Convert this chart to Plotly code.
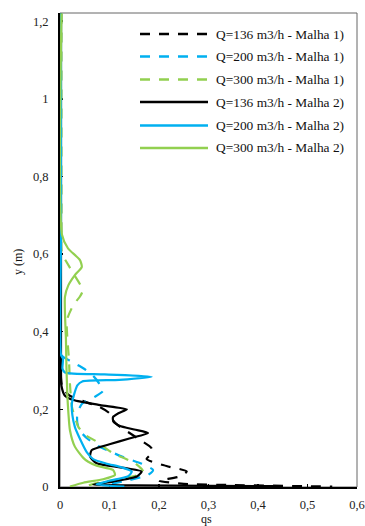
import plotly.graph_objects as go

# ---------------- data ----------------
series_names = [
    "Q=136 m3/h - Malha 1)",
    "Q=200 m3/h - Malha 1)",
    "Q=300 m3/h - Malha 1)",
    "Q=136 m3/h - Malha 2)",
    "Q=200 m3/h - Malha 2)",
    "Q=300 m3/h - Malha 2)",
]

# Q=136 Malha 1 (dashed black)
q136_m1_x = [0.002, 0.002, 0.004, 0.008, 0.02, 0.045, 0.08, 0.1, 0.107, 0.118, 0.131, 0.162, 0.185,
             0.186, 0.175, 0.215, 0.256, 0.242, 0.2, 0.25, 0.35, 0.5, 0.55]
q136_m1_y = [1.22, 0.28, 0.26, 0.25, 0.235, 0.222, 0.206, 0.19, 0.172, 0.158, 0.147, 0.121, 0.1,
             0.088, 0.072, 0.054, 0.04, 0.027, 0.016, 0.008, 0.005, 0.002, 0.001]

# Q=200 Malha 1 (dashed blue)
q200_m1_x = [0.002, 0.003, 0.02, 0.047, 0.068, 0.08, 0.087, 0.07, 0.045, 0.035, 0.035, 0.04, 0.055,
             0.078, 0.1, 0.128, 0.165, 0.188, 0.178, 0.14, 0.1, 0.13]
q200_m1_y = [1.22, 0.34, 0.325, 0.306, 0.285, 0.265, 0.248, 0.232, 0.215, 0.19, 0.165, 0.145, 0.125,
             0.105, 0.092, 0.077, 0.06, 0.044, 0.031, 0.018, 0.006, 0.001]

# Q=300 Malha 1 (dashed green)
q300_m1_x = [0.003, 0.003, 0.004, 0.012, 0.028, 0.046, 0.04, 0.027, 0.014, 0.015, 0.018, 0.02, 0.022,
             0.024, 0.03, 0.037, 0.05, 0.074, 0.107, 0.152, 0.168, 0.155, 0.12, 0.08, 0.047]
q300_m1_y = [1.22, 0.7, 0.6, 0.582, 0.548, 0.507, 0.49, 0.469, 0.43, 0.38, 0.33, 0.268, 0.232,
             0.207, 0.18, 0.155, 0.135, 0.117, 0.087, 0.061, 0.04, 0.03, 0.02, 0.012, 0.0]

# Q=136 Malha 2 (solid black)
q136_m2_x = [0.002, 0.002, 0.003, 0.01, 0.027, 0.081, 0.135, 0.118, 0.107, 0.108, 0.12, 0.15, 0.178,
             0.14, 0.1, 0.064, 0.061, 0.074, 0.135, 0.165, 0.155, 0.107, 0.067, 0.15, 0.3, 0.45]
q136_m2_y = [1.22, 0.3, 0.26, 0.235, 0.224, 0.211, 0.2, 0.19, 0.18, 0.168, 0.158, 0.148, 0.139,
             0.125, 0.11, 0.095, 0.078, 0.061, 0.048, 0.04, 0.027, 0.014, 0.006, 0.004, 0.003, 0.002]

# Q=200 Malha 2 (solid blue)
q200_m2_x = [0.002, 0.002, 0.002, 0.006, 0.005, 0.01, 0.09, 0.185, 0.12, 0.045, 0.035, 0.03, 0.024,
             0.025, 0.03, 0.04, 0.054, 0.067, 0.095, 0.121, 0.145, 0.138, 0.1, 0.074, 0.13]
q200_m2_y = [1.22, 0.65, 0.34, 0.33, 0.305, 0.295, 0.29, 0.284, 0.276, 0.272, 0.262, 0.245, 0.215,
             0.185, 0.155, 0.125, 0.09, 0.072, 0.06, 0.052, 0.04, 0.028, 0.016, 0.007, 0.001]

# Q=300 Malha 2 (solid green)
q300_m2_x = [0.003, 0.004, 0.016, 0.04, 0.044, 0.03, 0.017, 0.01, 0.012, 0.013, 0.015, 0.017, 0.02,
             0.03, 0.047, 0.057, 0.074, 0.107, 0.111, 0.087, 0.047, 0.02]
q300_m2_y = [1.22, 0.65, 0.615, 0.585, 0.567, 0.546, 0.52, 0.49, 0.38, 0.31, 0.232, 0.19, 0.147,
             0.104, 0.075, 0.065, 0.055, 0.044, 0.031, 0.02, 0.011, 0.001]

x_tickvals = [0, 0.1, 0.2, 0.3, 0.4, 0.5, 0.6]
x_ticktext = ["0", "0,1", "0,2", "0,3", "0,4", "0,5", "0,6"]
y_tickvals = [0, 0.2, 0.4, 0.6, 0.8, 1.0, 1.2]
y_ticktext = ["0", "0,2", "0,4", "0,6", "0,8", "1", "1,2"]

# ---------------- styling ----------------
BLACK = "#000000"
BLUE = "#00B0F0"
GREEN = "#92D050"
DASH = "10px,9px"
FONT = "Liberation Serif"

series = [
    (q136_m1_x, q136_m1_y, BLACK, DASH),
    (q200_m1_x, q200_m1_y, BLUE, DASH),
    (q300_m1_x, q300_m1_y, GREEN, DASH),
    (q136_m2_x, q136_m2_y, BLACK, "solid"),
    (q200_m2_x, q200_m2_y, BLUE, "solid"),
    (q300_m2_x, q300_m2_y, GREEN, "solid"),
]

fig = go.Figure()
for name, (xs, ys, col, dash) in zip(series_names, series):
    fig.add_trace(go.Scatter(
        x=xs, y=ys, mode="lines", name=name,
        line=dict(color=col, width=2.2, dash=dash, shape="spline", smoothing=0.6),
        showlegend=False, hoverinfo="skip",
    ))

W, H = 365, 526
L, R, T, B = 60, 8, 13, 39
pw, ph = W - L - R, H - T - B


def px2paper_x(px):
    return (px - L) / pw


def py2paper_y(py):
    return (H - B - py) / ph


shapes = []
annotations = []
# plot frame (top/right)
shapes.append(dict(type="rect", xref="paper", yref="paper", x0=0, x1=1, y0=0, y1=1,
                   line=dict(color="#666666", width=1), layer="below"))

# manual legend
row_y = [34, 56.5, 79.5, 102, 125.5, 148]
for i, (name, (xs, ys, col, dash)) in enumerate(zip(series_names, series)):
    yy = py2paper_y(row_y[i])
    shapes.append(dict(type="line", xref="paper", yref="paper",
                       x0=px2paper_x(140), x1=px2paper_x(208), y0=yy, y1=yy,
                       line=dict(color=col, width=2.5, dash=dash)))
    annotations.append(dict(text=name, xref="paper", yref="paper",
                            x=px2paper_x(214), y=yy, xanchor="left", yanchor="middle",
                            showarrow=False, font=dict(family=FONT, size=13.4, color="#111111")))

# axis titles
annotations.append(dict(text="y (m)", xref="paper", yref="paper", x=px2paper_x(18), y=py2paper_y(262),
                        xanchor="center", yanchor="middle", textangle=-90, showarrow=False,
                        font=dict(family=FONT, size=12, color="#111111")))
annotations.append(dict(text="qs", xref="paper", yref="paper", x=px2paper_x(206), y=py2paper_y(528),
                        xanchor="center", yanchor="bottom", showarrow=False,
                        font=dict(family=FONT, size=12, color="#111111")))

fig.update_layout(
    width=W, height=H,
    margin=dict(l=L, r=R, t=T, b=B, pad=0),
    plot_bgcolor="white", paper_bgcolor="white",
    showlegend=False, hovermode=False,
    shapes=shapes, annotations=annotations,
    font=dict(family=FONT, size=12.5, color="#222222"),
)
fig.update_xaxes(
    range=[0, 0.6], tickvals=x_tickvals, ticktext=x_ticktext,
    showgrid=False, zeroline=False, showline=True, linecolor="black", linewidth=2,
    ticks="inside", ticklen=3, tickcolor="black", tickwidth=1.5, ticklabelstandoff=5,
    layer="below traces", automargin=False,
    tickfont=dict(family=FONT, size=12.5, color="#222222"),
)
fig.update_yaxes(
    range=[0, 1.221], tickvals=y_tickvals, ticktext=y_ticktext,
    showgrid=False, zeroline=False, showline=True, linecolor="black", linewidth=2,
    ticks="inside", ticklen=3, tickcolor="black", tickwidth=1.5, ticklabelstandoff=7,
    layer="below traces", automargin=False,
    tickfont=dict(family=FONT, size=12.5, color="#222222"),
)

fig.write_html(
    "out.html",
    config={"displayModeBar": False, "staticPlot": True},
    post_script="document.body.style.margin='0';document.body.style.overflow='hidden';",
)
